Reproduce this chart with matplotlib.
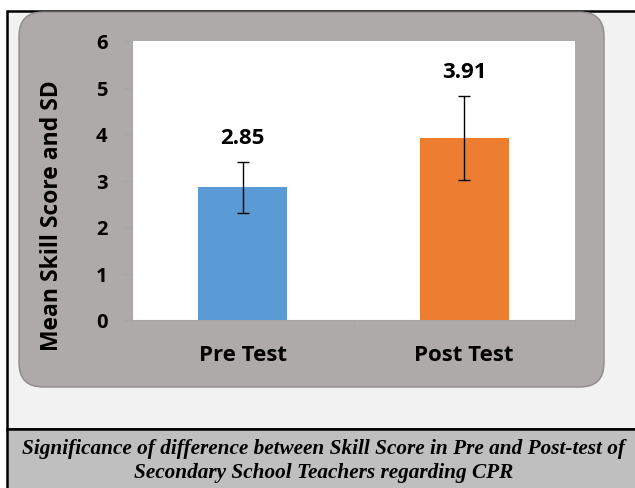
import matplotlib
matplotlib.use("Agg")
from matplotlib import pyplot as plt
from matplotlib.patches import FancyBboxPatch, Rectangle

# data
groups = ["Pre Test", "Post Test"]
means = [2.85, 3.91]
sds = [0.54, 0.90]
bar_colors = ["#5B9BD5", "#ED7D31"]
y_ticks = [0, 1, 2, 3, 4, 5, 6]
caption = ("Significance of difference between Skill Score in Pre and Post-test of\n"
           "Secondary School Teachers regarding CPR")

plt.rcParams['font.family'] = ['Open Sans', 'DejaVu Sans']

W, H = 635, 489
fig = plt.figure(figsize=(W / 100, H / 100), dpi=100)
fig.patch.set_facecolor("white")

# background layer in pixel units
bg = fig.add_axes([0, 0, 1, 1])
bg.set_xlim(0, W)
bg.set_ylim(H, 0)
bg.axis("off")
bg.add_patch(Rectangle((7, 12), W + 20, 418, facecolor="#F2F2F2", edgecolor="black", linewidth=1.8))
bg.add_patch(Rectangle((7, 430), W + 20, 70, facecolor="#BFBFBF", edgecolor="black", linewidth=1.8))
bg.add_patch(FancyBboxPatch((19, 13), 585, 375, boxstyle="round,pad=0,rounding_size=24",
                            facecolor="#AEAAAA", edgecolor="#8E8B8B", linewidth=1.0))
bg.text(324, 461, caption, ha="center", va="center", fontsize=15.3,
        family="Liberation Serif", fontweight="bold", style="italic",
        linespacing=1.25)

ax = fig.add_axes([132 / W, 1 - 321 / H, 443 / W, 279 / H])
ax.set_facecolor("white")
x = list(range(len(groups)))
ax.bar(x, means, width=0.40, color=bar_colors, zorder=2)
ax.errorbar(x, means, yerr=sds, fmt="none", ecolor="black", elinewidth=1.0,
            capsize=4.3, capthick=1.0, zorder=3)
for xi, m, s in zip(x, means, sds):
    ax.annotate(f"{m:.2f}", (xi, m + s), xytext=(0, 18), textcoords="offset points",
                ha="center", va="center", fontsize=16, fontweight="bold")

ax.set_xlim(-0.5, len(groups) - 0.5)
ax.set_ylim(0, 6)
ax.set_yticks(y_ticks)
ax.set_xticks(x)
ax.set_xticklabels(groups, fontsize=16, fontweight="bold")
ax.set_xticks([-0.5, 0.5, 1.5], minor=True)
ax.tick_params(axis="x", which="major", length=0, pad=17)
ax.tick_params(axis="x", which="minor", length=6, color="#A6A6A6", direction="out")
ax.tick_params(axis="y", length=6.5, color="#A6A6A6", labelsize=14.5, pad=11)
for lbl in ax.get_yticklabels():
    lbl.set_fontweight("bold")
for side in ["top", "right"]:
    ax.spines[side].set_visible(False)
for side in ["left", "bottom"]:
    ax.spines[side].set_color("#A6A6A6")
ax.set_ylabel("Mean Skill Score and SD", fontsize=16.5, fontweight="bold")
ax.yaxis.set_label_coords(-0.153, 0.376)

fig.savefig("out.png", dpi=100)
